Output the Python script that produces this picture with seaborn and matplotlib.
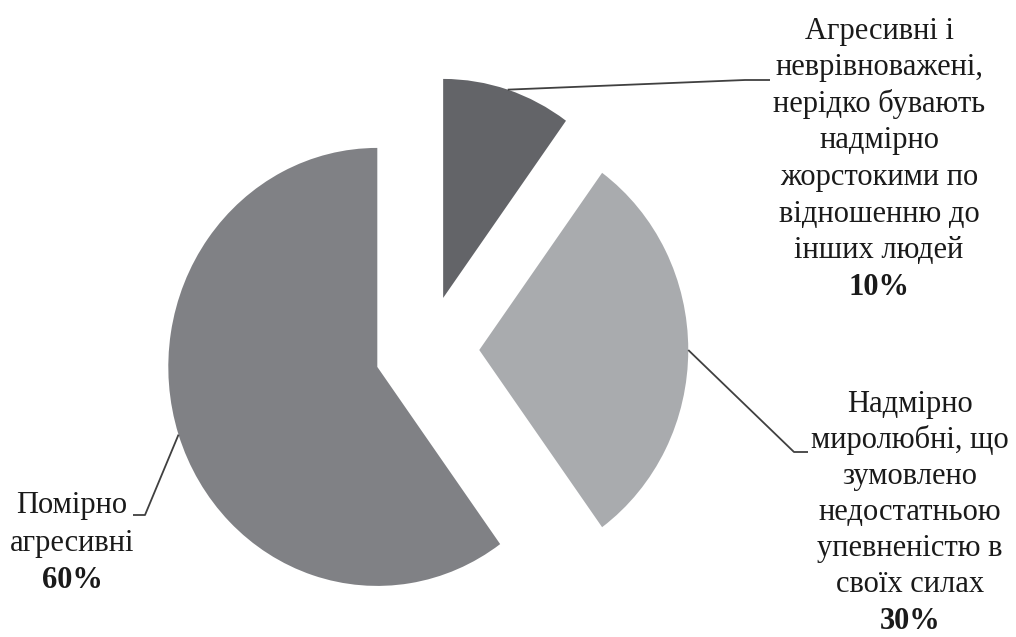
import matplotlib
matplotlib.use("Agg")
import matplotlib.pyplot as plt
import seaborn as sns
import numpy as np

sns.set_theme(style="white")
plt.rcParams['font.family'] = ['Liberation Serif', 'DejaVu Serif']

# ---- data ----
categories = [
    ["Агресивні і", "неврівноважені,", "нерідко бувають", "надмірно",
     "жорстокими по", "відношенню до", "інших людей"],
    ["Надмірно", "миролюбні, що", "зумовлено", "недостатньою",
     "упевненістю в", "своїх силах"],
    ["Помірно", "агресивні"],
]
values = [10, 30, 60]
pct_labels = ["10%", "30%", "60%"]
colors = ["#636468", "#a9abae", "#808185"]

# ---- layout (pixels) ----
W, H = 1016, 637
cx, cy = 427, 350      # pie centre in pixels
sx, sy = 209, 219      # pixels per data unit

def p2d(px, py):
    return (px - cx) / sx, (cy - py) / sy

# label layout: text centre x, first line y, line step, leader elbow points
label_layout = [
    dict(tx=879, ty=31, step=36.6, elbow=[(745, 80), (770, 80)]),
    dict(tx=910, ty=404, step=36.2, elbow=[(794, 452), (808, 452)]),
    dict(tx=72, ty=505, step=38.0, elbow=[(145, 515), (133, 515)]),
]

fig = plt.figure(figsize=(W / 100, H / 100), dpi=100)
ax = fig.add_axes([0, 0, 1, 1])
wedges, _ = ax.pie(values, colors=colors, startangle=90, counterclock=False,
                   explode=[0.25] * 3, radius=1,
                   wedgeprops=dict(linewidth=0))
ax.set_aspect('auto')
ax.set_xlim(-cx / sx, (W - cx) / sx)
ax.set_ylim(-(H - cy) / sy, cy / sy)
ax.axis('off')

fs = 22
for w, lines, pct, lay in zip(wedges, categories, pct_labels, label_layout):
    th = np.deg2rad((w.theta1 + w.theta2) / 2)
    ax0 = w.center[0] + w.r * np.cos(th)
    ay0 = w.center[1] + w.r * np.sin(th)
    pts = [(ax0, ay0)] + [p2d(*p) for p in lay['elbow']]
    xs, ys = zip(*pts)
    ax.plot(xs, ys, color="#404040", lw=1.3, solid_capstyle='butt')
    for i, t in enumerate(lines + [pct]):
        x, y = p2d(lay['tx'], lay['ty'] + i * lay['step'])
        ax.text(x, y, t, ha='center', va='center', fontsize=fs,
                color="#1a1a1a",
                fontweight='bold' if t == pct else 'normal')

fig.savefig("out.png", dpi=100, facecolor='white')
